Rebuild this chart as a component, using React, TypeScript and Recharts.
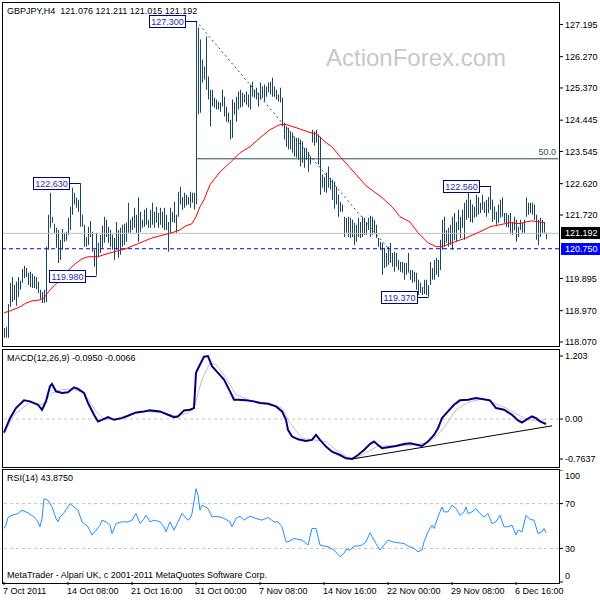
import React from 'react';
import { ComposedChart, Bar, Line, XAxis, YAxis, ReferenceLine, ReferenceDot } from 'recharts';

const FONT = '"Liberation Sans", Arial, sans-serif';
const BAR_COLOR = '#1b4661';

// ---- price bars (H4) ----
const highs = [
  118.47,118.50,119.16,119.77,119.94,119.71,119.80,119.94,119.83,120.17,
  120.26,120.20,120.06,120.09,120.03,119.97,119.94,119.80,119.57,119.51,
  119.57,120.81,121.73,122.36,121.67,121.47,121.35,121.29,121.01,121.32,
  121.21,121.24,121.64,121.96,122.50,122.36,122.22,122.16,122.63,121.73,
  121.44,121.09,121.38,121.55,121.24,120.72,121.21,120.92,121.15,121.41,
  121.67,121.58,121.38,121.29,121.15,121.06,
  121.52,121.29,121.35,121.44,121.47,121.50,122.07,121.58,121.67,121.93,
  121.73,122.22,121.81,121.58,121.87,121.93,121.58,121.87,122.07,121.81,
  121.96,121.78,121.93,121.81,121.93,121.73,121.52,121.93,121.81,122.10,
  121.73,122.39,122.53,122.24,122.36,122.30,122.24,122.39,122.36,122.36,
  127.30,
  127.11,126.76,126.19,125.99,126.85,125.70,125.32,125.32,125.09,125.04,
  124.98,124.95,125.32,125.12,124.84,124.66,124.46,125.04,124.95,125.12,
  125.27,125.32,125.24,125.18,125.27,125.18,125.47,125.55,125.32,125.38,
  125.24,125.53,125.41,125.47,125.41,125.53,125.55,125.67,125.41,125.32,
  125.18,125.38,125.09,124.37,124.26,124.23,124.12,124.09,123.97,123.94,
  123.94,123.89,123.83,123.65,123.65,123.54,123.40,
  124.17,124.12,124.17,124.03,123.97,122.88,122.82,122.94,123.11,122.79,
  122.73,122.68,122.53,122.30,122.10,122.02,121.67,121.64,121.67,121.64,
  121.58,121.50,121.44,121.64,121.52,121.67,121.64,121.52,121.64,121.70,
  121.67,121.58,121.44,121.06,120.95,120.92,120.78,120.63,120.81,120.92,
  120.63,120.66,120.63,120.43,120.37,120.37,120.34,120.34,120.63,120.14,
  120.14,120.09,120.06,119.86,119.77,119.65,119.86,119.86,119.71,
  120.37,120.20,120.43,120.49,120.43,121.01,121.58,121.67,121.29,121.35,
  121.44,121.67,121.78,121.52,121.87,121.67,121.87,122.07,122.16,122.53,
  122.16,122.02,121.96,122.30,122.24,122.07,122.30,122.10,122.16,122.24,
  122.56,122.16,121.96,121.81,122.02,122.16,122.22,121.78,121.78,121.73,
  121.78,121.52,121.67,121.58,121.38,121.58,121.50,121.58,122.22,122.07,
  122.07,122.07,122.02,121.73,121.58,121.64,121.58,121.52,121.21,
];
const lows = [
  118.19,118.19,118.19,119.08,119.22,119.28,119.11,119.36,119.57,119.77,
  119.91,119.94,119.71,119.65,119.62,119.62,119.59,119.48,119.31,119.19,
  119.19,119.22,120.72,121.35,121.50,121.21,120.78,120.34,120.43,120.72,
  120.95,120.98,121.15,121.29,121.73,122.02,121.93,121.81,121.38,121.38,
  120.81,120.81,120.86,121.09,120.66,120.23,119.98,120.52,120.63,120.78,
  120.92,121.09,120.92,120.81,120.72,120.43,
  120.72,120.49,120.58,120.81,120.86,120.95,121.21,121.21,121.29,121.35,
  121.21,120.95,121.24,121.35,121.38,121.44,121.35,121.35,121.44,121.35,
  121.50,121.35,121.44,121.35,121.29,121.29,120.66,121.21,121.52,121.50,
  121.21,121.67,122.02,121.87,121.93,121.99,122.02,121.93,122.07,121.87,
  122.02,
  124.61,124.66,125.53,125.61,125.32,125.04,124.26,124.84,124.81,124.75,
  124.75,124.69,124.84,124.55,124.40,124.37,123.89,123.94,124.61,124.40,
  124.75,124.81,124.84,124.95,124.89,124.81,124.75,125.12,125.09,125.04,
  124.84,125.04,125.09,124.98,125.12,125.24,125.18,125.12,125.12,125.04,
  124.98,124.95,124.26,123.89,123.68,123.60,123.60,123.51,123.40,123.37,
  123.31,123.11,123.22,123.08,123.31,122.96,123.17,
  123.80,123.71,123.80,123.17,122.30,122.50,122.39,122.36,122.50,122.45,
  122.16,121.90,122.02,121.67,121.81,121.81,121.09,121.21,121.09,121.06,
  121.09,120.86,120.95,121.09,121.06,121.09,121.15,121.15,121.29,121.09,
  121.15,121.21,121.06,120.81,120.72,120.00,120.20,120.23,120.29,120.34,
  120.23,120.09,120.23,120.14,120.09,120.06,119.86,120.00,120.06,119.86,
  119.77,119.80,119.57,119.42,119.48,119.42,119.45,119.42,119.37,
  119.71,119.86,119.86,120.00,119.94,120.14,120.72,120.81,120.92,120.81,
  120.86,120.72,121.01,120.95,121.29,121.06,121.35,121.01,121.58,121.64,
  121.52,121.50,121.64,121.67,121.73,121.78,121.87,121.78,121.67,121.78,
  121.87,121.52,121.58,121.44,121.50,121.64,121.67,121.50,121.38,121.35,
  121.21,121.15,121.29,120.95,121.09,121.29,121.21,121.21,121.67,121.73,
  121.78,121.73,121.58,121.01,120.86,121.09,121.21,121.21,121.02,
];

// ---- moving average (red) ----
const maIdx = [0,3,8,11,14,18,20,23,27,31,35,39,42,47,50,55,61,68,74,80,84,88,91,94,96,98,100,103,108,113,118,123,128,133,138,141,146,153,156,161,164,168,173,181,189,194,198,203,207,212,216,219,224,231,238,243,248,253,258,261,264,270];
const maVal = [118.91,118.96,119.08,119.19,119.25,119.28,119.34,119.57,119.80,120.06,120.29,120.46,120.52,120.52,120.58,120.66,120.75,120.92,121.06,121.15,121.21,121.29,121.41,121.47,121.67,121.96,122.16,122.59,122.96,123.22,123.51,123.68,123.94,124.17,124.32,124.32,124.23,124.09,124.06,123.80,123.68,123.40,123.08,122.56,122.22,121.96,121.67,121.52,121.21,120.92,120.81,120.81,120.92,121.06,121.24,121.38,121.44,121.50,121.47,121.52,121.55,121.50];

// ---- MACD(12,26,9) ----
const macdIdx = [0,3,6,10,13,17,19,21,23,24,26,29,32,35,37,40,42,45,47,49,52,55,59,62,66,70,73,78,82,85,87,90,93,95,96,98,100,102,104,107,110,113,115,117,121,125,128,132,136,139,141,142,144,147,151,154,156,158,161,164,168,171,174,177,180,183,185,187,189,192,196,200,203,207,209,212,215,217,219,222,225,228,232,236,239,243,246,250,254,257,259,261,264,266,268,271];
const macdVal = [-0.258,0.017,0.209,0.357,0.337,0.273,0.177,0.337,0.625,0.670,0.529,0.497,0.510,0.606,0.574,0.497,0.305,0.081,-0.047,-0.015,0.036,-0.015,0.017,0.062,0.126,0.145,0.165,0.145,0.081,0.036,0.049,0.165,0.177,0.209,0.882,1.042,1.190,1.203,1.010,0.882,0.754,0.529,0.369,0.369,0.357,0.337,0.305,0.293,0.241,0.145,-0.015,-0.207,-0.335,-0.386,-0.418,-0.399,-0.303,-0.399,-0.527,-0.623,-0.687,-0.751,-0.764,-0.687,-0.591,-0.476,-0.431,-0.495,-0.559,-0.540,-0.514,-0.476,-0.463,-0.495,-0.514,-0.431,-0.303,-0.175,0.017,0.145,0.273,0.357,0.369,0.401,0.382,0.357,0.209,0.177,0.081,-0.028,-0.066,-0.015,0.049,0.017,-0.047,-0.095];
const sigIdx = [0,5,13,19,24,29,34,40,46,50,55,63,70,78,86,92,95,99,103,106,111,116,124,132,139,143,149,155,161,166,172,176,182,187,197,205,210,216,221,226,232,239,245,251,257,262,268,271];
const sigVal = [-0.271,0.081,0.318,0.273,0.497,0.561,0.574,0.497,0.145,-0.002,-0.002,0.081,0.145,0.126,0.062,0.113,0.209,0.754,1.074,1.042,0.786,0.466,0.337,0.305,0.209,-0.079,-0.367,-0.399,-0.431,-0.591,-0.732,-0.751,-0.623,-0.514,-0.514,-0.495,-0.463,-0.335,-0.111,0.177,0.318,0.382,0.305,0.209,0.081,-0.015,-0.028,-0.007];
const macdTrendIdx = [174, 274];
const macdTrendVal = [-0.764, -0.13];

// ---- RSI(14) ----
const rsiIdx = [0,1,2,4,7,9,12,15,17,18,19,20,22,24,26,27,28,30,33,35,37,39,42,44,46,48,49,51,53,54,56,59,62,64,66,68,70,71,73,75,78,80,81,83,85,87,89,92,93,94,96,97,98,99,102,104,106,109,111,113,114,116,118,120,123,126,129,132,135,137,139,141,142,145,149,152,154,156,158,160,162,165,168,170,171,173,175,177,179,181,183,185,186,188,190,192,194,197,200,202,205,207,209,210,212,214,215,217,219,220,222,224,226,228,230,231,232,234,236,238,240,242,244,246,248,250,252,254,256,257,259,261,263,265,267,269,270,271];
const rsiVal = [47.8,50.7,57.6,59.6,61.1,64.1,61.7,58.1,53.7,49.3,56.7,74.4,73.0,67.0,56.7,53.7,58.1,61.7,70.0,67.0,64.1,53.7,49.3,41.9,46.3,50.7,55.2,53.7,50.7,43.3,52.2,53.7,53.7,55.2,61.1,52.2,56.7,59.6,53.7,55.2,53.7,49.3,44.8,53.7,46.3,53.7,61.1,55.2,56.7,61.1,83.3,77.4,64.1,68.5,65.6,58.1,58.7,57.6,55.8,53.7,49.3,56.7,58.7,55.2,58.7,56.7,55.2,57.6,53.7,53.7,49.3,35.9,35.9,38.9,37.4,33.0,47.8,47.8,33.0,32.1,31.5,28.5,22.6,25.6,29.1,28.5,32.1,32.1,33.0,35.9,43.9,37.4,34.4,28.5,33.0,37.4,35.9,35.0,34.4,32.1,30.0,27.0,28.5,35.9,44.8,50.7,47.8,58.1,67.0,62.6,62.6,68.5,65.6,59.6,62.6,67.0,61.1,62.6,65.6,61.1,58.1,61.1,52.2,53.7,59.6,49.3,49.3,50.7,41.9,46.3,44.8,59.6,55.8,55.2,43.3,44.8,47.8,43.9];

// ---- drawn objects ----
const trendIdx = [96, 193];
const trendVal = [127.30, 120.70];
const fiboIdx = [96, 277];
const fiboVal = [123.335, 123.335];
const lastPrice = 121.192;
const levelPrice = 120.75;
const tags = [
  { i: 96, price: 127.30, text: '127.300' },
  { i: 38, price: 122.63, text: '122.630' },
  { i: 46, price: 119.98, text: '119.980' },
  { i: 243, price: 122.56, text: '122.560' },
  { i: 212, price: 119.37, text: '119.370' },
];

// ---- axes ----
const priceTicks = [127.195, 126.27, 125.37, 124.445, 123.545, 122.62, 121.72, 119.895, 118.97, 118.07];
const macdTicks = [1.203, 0, -0.7637];
const macdTickText = ['1.203', '0.00', '-0.7637'];
const rsiTicks = [100, 70, 30, 0];
const xTickIdx = [0, 32, 64, 96, 128, 160, 192, 224, 256];
const xTickText = ['7 Oct 2011', '14 Oct 08:00', '21 Oct 16:00', '31 Oct 00:00', '7 Nov 08:00', '14 Nov 16:00', '22 Nov 00:00', '29 Nov 08:00', '6 Dec 16:00'];

const N = 278;
const toMap = (idx: number[], val: number[]) => {
  const m: Record<number, number> = {};
  idx.forEach((k, j) => { m[k] = val[j]; });
  return m;
};
const maMap = toMap(maIdx, maVal);
const trendMap = toMap(trendIdx, trendVal);
const fiboMap = toMap(fiboIdx, fiboVal);
const macdMap = toMap(macdIdx, macdVal);
const sigMap = toMap(sigIdx, sigVal);
const mtMap = toMap(macdTrendIdx, macdTrendVal);
const rsiMap = toMap(rsiIdx, rsiVal);

const mainRows = Array.from({ length: N }, (_, i) => ({
  i,
  hl: i < highs.length ? [lows[i], highs[i]] : undefined,
  ma: maMap[i],
  trend: trendMap[i],
  fibo: fiboMap[i],
}));
const macdRows = Array.from({ length: N }, (_, i) => ({ i, macd: macdMap[i], sig: sigMap[i], mt: mtMap[i] }));
const rsiRows = Array.from({ length: N }, (_, i) => ({ i, rsi: rsiMap[i] }));

const txt = { fontFamily: FONT, fontSize: 9 } as const;

const PriceTick = (p: any) => (
  <text x={p.x} y={p.y} dy="0.35em" textAnchor="start" fill="#000" {...txt}>
    {Number(p.payload.value).toFixed(3)}
  </text>
);
const MacdTick = (p: any) => {
  const k = macdTicks.indexOf(p.payload.value);
  return (
    <text x={p.x} y={p.y} dy="0.35em" textAnchor="start" fill="#000" {...txt}>
      {macdTickText[k]}
    </text>
  );
};
// RSI chart's own SVG starts at page y=470; keep the edge labels inside the pane
const RsiTick = (p: any) => {
  const y = Math.min(Math.max(p.y, 6), 106);
  return (
    <text x={p.x} y={y} dy="0.35em" textAnchor="start" fill="#000" {...txt}>
      {p.payload.value}
    </text>
  );
};
const XTick = (p: any) => {
  const k = xTickIdx.indexOf(p.payload.value);
  return (
    <text x={p.x - 1} y={p.y + 1} dy="0.71em" textAnchor="start" fill="#000" {...txt}>
      {xTickText[k]}
    </text>
  );
};

const PriceTag = (p: any) => {
  const vb = p.viewBox || {};
  const x = vb.x + vb.width + 2;
  const y = Math.round(vb.y);
  return (
    <g>
      <rect x={x} y={y - 6} width={39} height={12} fill={p.bg} />
      <text x={x + 4} y={y} dy="0.35em" fill="#fff" {...txt}>{p.text}</text>
    </g>
  );
};

const makeTag = (text: string) => (p: any) => {
  const bx = Math.round(p.cx - 0.5) + 0.5;
  const cy = Math.round(p.cy) + 0.5;
  const right = bx - 11;
  const w = 36;
  return (
    <g>
      <line x1={right} y1={cy} x2={bx} y2={cy} stroke="#000080" strokeWidth={1} />
      <rect x={right - w} y={cy - 6} width={w} height={12} fill="#fff" stroke="#000080" strokeWidth={1} />
      <text x={right - w / 2} y={cy} dy="0.35em" textAnchor="middle" fill="#2b2bb8" {...txt}>{text}</text>
    </g>
  );
};

const FiboLabel = (p: any) => (
  <text x={p.cx} y={p.cy - 4} textAnchor="end" fill="#2f4f4f" {...txt}>50.0</text>
);

const frame = (top: number, h: number): React.CSSProperties => ({
  position: 'absolute', left: 2, top, width: 556, height: h,
  border: '1px solid #000', pointerEvents: 'none', boxSizing: 'content-box',
});

const label = (left: number, top: number, extra: React.CSSProperties = {}): React.CSSProperties => ({
  position: 'absolute', left, top, fontFamily: FONT, fontSize: 9, lineHeight: '11px', whiteSpace: 'nowrap', color: '#000', ...extra,
});

export default function App() {
  return (
    <div style={{ position: 'absolute', left: 0, top: 0, width: 600, height: 600, background: '#fff', overflow: 'hidden' }}>
      <div style={label(326, 44, { fontSize: 24, lineHeight: '28px', color: '#c8c8c8' })}>ActionForex.com</div>

      <div style={{ position: 'absolute', left: 0, top: 3 }}>
        <ComposedChart width={600} height={343} data={mainRows} margin={{ top: 0, right: 0, bottom: 0, left: 3 }}>
          <XAxis dataKey="i" type="category" scale="band" hide />
          <YAxis orientation="right" type="number" domain={[117.955, 127.812]} allowDataOverflow
            ticks={priceTicks} interval={0} width={41} axisLine={false}
            tickLine={{ stroke: '#000' }} tickSize={4} tickMargin={2} tick={<PriceTick />} />
          <ReferenceLine y={lastPrice} stroke="#c0c0c0" label={<PriceTag text="121.192" bg="#000" />} />
          <ReferenceLine y={levelPrice} stroke="#0000ff" strokeDasharray="4 3" label={<PriceTag text="120.750" bg="#0000ff" />} />
          <Line dataKey="fibo" stroke="#2f4f4f" strokeWidth={1} dot={false} connectNulls isAnimationActive={false} />
          <Line dataKey="trend" stroke="#2f4f4f" strokeWidth={1} strokeDasharray="2 3" dot={false} connectNulls isAnimationActive={false} />
          <Bar dataKey="hl" fill={BAR_COLOR} barSize={1} isAnimationActive={false} />
          <Line dataKey="ma" stroke="#ff0000" strokeWidth={1} dot={false} connectNulls isAnimationActive={false} />
          {tags.map((t) => (
            <ReferenceDot key={t.text} x={t.i} y={t.price} r={0} shape={makeTag(t.text)} />
          ))}
          <ReferenceDot x={276} y={fiboVal[0]} r={0} shape={FiboLabel} />
        </ComposedChart>
      </div>

      <div style={{ position: 'absolute', left: 0, top: 350 }}>
        <ComposedChart width={600} height={116} data={macdRows} margin={{ top: 0, right: 0, bottom: 0, left: 3 }}>
          <XAxis dataKey="i" type="category" scale="band" hide />
          <YAxis orientation="right" type="number" domain={[-0.897, 1.318]} allowDataOverflow
            ticks={macdTicks} interval={0} width={41} axisLine={false}
            tickLine={{ stroke: '#000' }} tickSize={4} tickMargin={2} tick={<MacdTick />} />
          <ReferenceLine y={0} stroke="#c0c0c0" strokeDasharray="3 3" />
          <Line dataKey="sig" stroke="#c0c0c0" strokeWidth={1} dot={false} connectNulls isAnimationActive={false} />
          <Line dataKey="macd" stroke="#000080" strokeWidth={2} dot={false} connectNulls isAnimationActive={false} />
          <Line dataKey="mt" stroke="#000" strokeWidth={1} dot={false} connectNulls isAnimationActive={false} />
        </ComposedChart>
      </div>

      <div style={{ position: 'absolute', left: 0, top: 470 }}>
        <ComposedChart width={600} height={126} data={rsiRows} margin={{ top: 0, right: 0, bottom: 0, left: 3 }}>
          <XAxis dataKey="i" type="category" scale="band" ticks={xTickIdx} interval={0} height={14}
            axisLine={false} tickLine={{ stroke: '#000' }} tickSize={3} tickMargin={2} tick={<XTick />} />
          <YAxis orientation="right" type="number" domain={[0, 100]} allowDataOverflow
            ticks={rsiTicks} interval={0} width={41} axisLine={false}
            tickLine={{ stroke: '#000' }} tickSize={4} tickMargin={2} tick={<RsiTick />} />
          <ReferenceLine y={70} stroke="#c0c0c0" strokeDasharray="3 3" />
          <ReferenceLine y={30} stroke="#c0c0c0" strokeDasharray="3 3" />
          <Line dataKey="rsi" stroke="#1e90ff" strokeWidth={1} dot={false} connectNulls isAnimationActive={false} />
        </ComposedChart>
      </div>

      <div style={frame(2, 343)} />
      <div style={frame(349, 117)} />
      <div style={frame(469, 113)} />

      <div style={label(7, 6)}>GBPJPY,H4&nbsp;&nbsp;121.076 121.211 121.015 121.192</div>
      <div style={label(7, 353)}>MACD(12,26,9) -0.0950 -0.0066</div>
      <div style={label(7, 473)}>RSI(14) 43.8750</div>
      <div style={label(7, 570)}>MetaTrader - Alpari UK, c 2001-2011 MetaQuotes Software Corp.</div>
    </div>
  );
}
